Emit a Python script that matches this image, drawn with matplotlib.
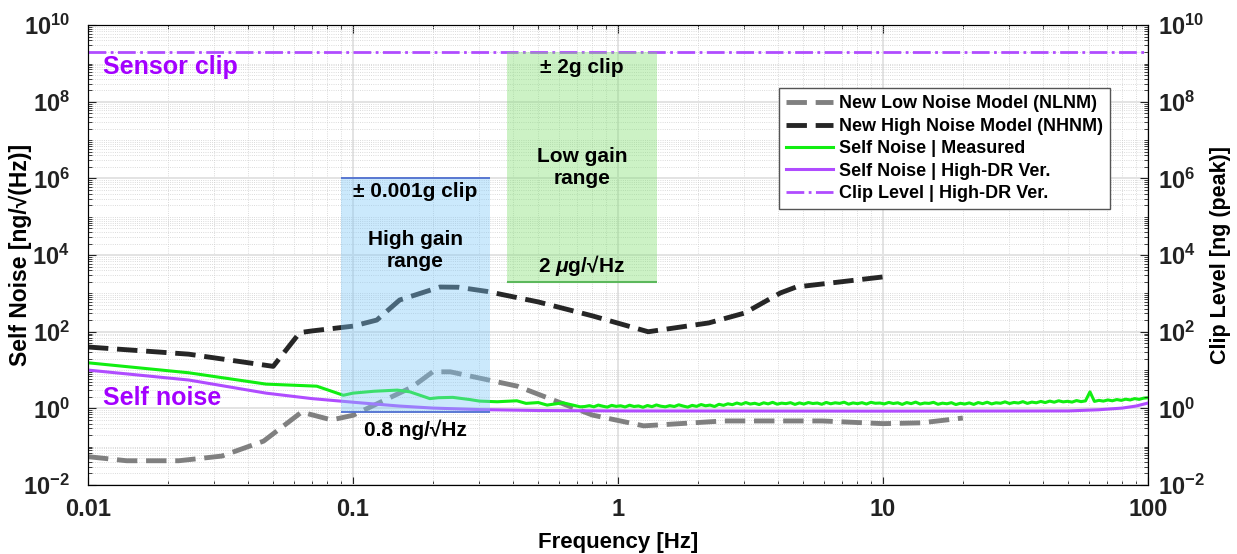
import numpy as np
import matplotlib
matplotlib.use("Agg")
import matplotlib.pyplot as plt
from matplotlib.ticker import LogLocator, NullFormatter

plt.rcParams["font.family"] = ["Liberation Sans", "DejaVu Sans"]
plt.rcParams["font.weight"] = "bold"
plt.rcParams["axes.labelweight"] = "bold"
plt.rcParams["mathtext.fontset"] = "custom"
plt.rcParams["mathtext.rm"] = "Liberation Sans:bold"
plt.rcParams["mathtext.it"] = "Liberation Sans:bold:italic"
plt.rcParams["mathtext.bf"] = "Liberation Sans:bold"

# --- data (ng/sqrt(Hz)) ---
nlnm_f = [0.01, 0.014, 0.022, 0.032, 0.046, 0.064, 0.083, 0.1, 0.167, 0.2, 0.233,
          0.417, 0.8, 1.25, 2.5, 5.9, 10, 14, 20]
nlnm_v = [0.055, 0.043, 0.043, 0.057, 0.14, 0.8, 0.5, 0.66, 3.6, 9.0, 9.0,
          3.8, 0.67, 0.35, 0.47, 0.47, 0.40, 0.42, 0.56]

nhnm_f = [0.01, 0.024, 0.05, 0.063, 0.07, 0.1, 0.123, 0.15, 0.213, 0.25, 0.32,
          0.5, 0.8, 1.3, 2.2, 3.0, 4.1, 4.7, 10]
nhnm_v = [40, 26, 12.5, 95, 105, 140, 202, 674, 1470, 1450, 1130,
          600, 260, 100, 170, 307, 1030, 1470, 2700]

# measured self noise, low-frequency part
meas_lf_f = [0.01, 0.024, 0.047, 0.073, 0.092, 0.1, 0.12, 0.147, 0.164, 0.195, 0.21,
             0.238, 0.276, 0.3, 0.35, 0.415, 0.45, 0.5, 0.54, 0.62, 0.72]
meas_lf_v = [15.5, 8.5, 4.3, 3.8, 2.2, 2.5, 2.8, 3.0, 2.7, 1.8, 1.9,
             1.94, 1.7, 1.55, 1.49, 1.58, 1.35, 1.42, 1.22, 1.4, 1.1]
# measured self noise, 0.75 - 100 Hz bins
meas_hf_range = (0.75, 100)
meas_hf_v = [1.12, 1.18, 1.10, 1.22, 1.14, 1.08, 1.20, 1.13,
             1.17, 1.09, 1.21, 1.12, 1.16, 1.07, 1.19, 1.11, 1.23, 1.14,
             1.10, 1.18, 1.12, 1.24, 1.15, 1.08, 1.20, 1.13, 1.26, 1.17, 1.22, 1.12, 1.28,
             1.20, 1.32, 1.25, 1.38, 1.28, 1.42, 1.30, 1.36, 1.26, 1.40, 1.31, 1.44, 1.29, 1.37, 1.33, 1.41, 1.27, 1.39,
             1.30, 1.42, 1.34, 1.38, 1.28, 1.43, 1.32, 1.40, 1.35, 1.45, 1.29, 1.39, 1.33, 1.41, 1.30, 1.44, 1.36, 1.38,
             1.31, 1.43, 1.34, 1.40, 1.27, 1.42, 1.33, 1.46, 1.30, 1.38, 1.35, 1.44, 1.28, 1.37, 1.32, 1.41, 1.26, 1.36,
             1.30, 1.39, 1.27, 1.42, 1.33, 1.45, 1.31, 1.40, 1.36, 1.48, 1.34, 1.43, 1.38, 1.50, 1.35, 1.46, 1.40, 1.52,
             1.42, 1.55, 1.45, 1.58, 1.48, 1.53, 1.46, 1.60, 1.50, 1.57, 2.70, 1.52, 1.62, 1.55, 1.66, 1.58, 1.70, 1.62,
             1.74, 1.66, 1.80, 1.72, 1.85, 1.90]

hidr_f = [0.01, 0.024, 0.047, 0.07, 0.106, 0.15, 0.2, 0.3, 0.5, 1, 10, 50, 65, 80, 90, 100]
hidr_v = [10, 5.5, 2.5, 1.8, 1.4, 1.15, 1.02, 0.93, 0.88, 0.86, 0.85, 0.86, 0.92, 1.02, 1.15, 1.38]

clip_level = 2e9          # +-2 g
high_gain = (0.09, 0.33, 0.8, 1e6)    # f_lo, f_hi, noise floor, clip
low_gain = (0.38, 1.4, 2e3, 2e9)

purple = "#b04cff"
txt_purple = "#a300ff"

fig = plt.figure(figsize=(12.37, 5.54), dpi=100)
ax = fig.add_axes([0.0711, 0.1245, 0.857, 0.830])

meas_hf_f = np.geomspace(meas_hf_range[0], meas_hf_range[1], len(meas_hf_v))
meas_f = np.concatenate([meas_lf_f, meas_hf_f])
meas_v = np.concatenate([meas_lf_v, meas_hf_v])

ax.plot(nlnm_f, nlnm_v, color="#808080", lw=3.5, ls=(0, (4.2, 1.8)),
        label="New Low Noise Model (NLNM)", zorder=3)
ax.plot(nhnm_f, nhnm_v, color="#262626", lw=3.5, ls=(0, (4.2, 1.8)),
        label="New High Noise Model (NHNM)", zorder=3)
ax.plot(meas_f, meas_v, color="#11ee11", lw=2.2, label="Self Noise | Measured", zorder=4)
ax.plot(hidr_f, hidr_v, color=purple, lw=2.2, label="Self Noise | High-DR Ver.", zorder=4)
ax.axhline(clip_level, color=purple, lw=2, ls="-.", label="Clip Level | High-DR Ver.", zorder=4)

# gain range boxes
ax.fill_between([high_gain[0], high_gain[1]], high_gain[2], high_gain[3],
                color="#7fc8f8", alpha=0.4, lw=0, zorder=5)
ax.hlines([high_gain[2], high_gain[3]], high_gain[0], high_gain[1], color="#4f6fd0", lw=1.3, zorder=5)
ax.fill_between([low_gain[0], low_gain[1]], low_gain[2], low_gain[3],
                color="#80e070", alpha=0.4, lw=0, zorder=5)
ax.hlines([low_gain[2]], low_gain[0], low_gain[1], color="#5cb85c", lw=1.5, zorder=5)

fs = 15
fs_p = 18
ax.text(0.0114, 8.1e8, "Sensor clip", color=txt_purple, fontsize=fs_p, ha="left", va="center")
ax.text(0.0114, 1.86, "Self noise", color=txt_purple, fontsize=fs_p, ha="left", va="center")
ax.text(0.73, 7.8e8, "± 2g clip", fontsize=fs, ha="center", va="center", zorder=6)
ax.text(0.73, 1.9e6, "Low gain\nrange", fontsize=fs, ha="center", va="center", zorder=6)
ax.text(0.73, 5.5e3, r"2 $\mu$g/√Hz", fontsize=fs, ha="center", va="center", zorder=6)
ax.text(0.172, 4.5e5, "± 0.001g clip", fontsize=fs, ha="center", va="center", zorder=6)
ax.text(0.172, 1.35e4, "High gain\nrange", fontsize=fs, ha="center", va="center", zorder=6)
ax.text(0.172, 0.27, "0.8 ng/√Hz", fontsize=fs, ha="center", va="center", zorder=6)

ax.set_xscale("log")
ax.set_yscale("log")
ax.set_xlim(0.01, 100)
ax.set_ylim(1e-2, 1e10)
ax.set_xticks([0.01, 0.1, 1, 10, 100])
ax.set_xticklabels(["0.01", "0.1", "1", "10", "100"])
ax.yaxis.set_major_locator(LogLocator(base=100, numticks=20))
ax.yaxis.set_minor_locator(LogLocator(base=10, subs=np.arange(1, 10), numticks=40))
ax.yaxis.set_minor_formatter(NullFormatter())

ax.grid(True, which="major", color="#e3e3e3", lw=1.4, ls="-", zorder=0)
ax.grid(True, which="minor", color="#cfcfcf", lw=0.6, ls=":", zorder=0)
ax.set_axisbelow(True)
ax.tick_params(which="both", direction="in", top=True, labelsize=17, colors="#222222")
ax.tick_params(which="major", length=6)
ax.tick_params(which="minor", length=3)
ax.tick_params(axis="x", which="major", pad=9)
ax.tick_params(axis="y", which="major", pad=13)
for s in ax.spines.values():
    s.set_color("#333333")

ax.set_xlabel("Frequency [Hz]", fontsize=16)
ax.xaxis.set_label_coords(0.5, -0.103)
ax.set_ylabel("Self Noise [ng/√(Hz)]", fontsize=16.5)
ax.yaxis.set_label_coords(-0.053, 0.5)

ax2 = ax.twinx()
ax2.set_yscale("log")
ax2.set_ylim(1e-2, 1e10)
ax2.yaxis.set_major_locator(LogLocator(base=100, numticks=20))
ax2.yaxis.set_minor_locator(LogLocator(base=10, subs=np.arange(1, 10), numticks=40))
ax2.yaxis.set_minor_formatter(NullFormatter())
ax2.tick_params(which="both", direction="in", labelsize=17, colors="#222222")
ax2.tick_params(which="major", length=6, pad=7)
ax2.tick_params(which="minor", length=3)
ax2.set_ylabel("Clip Level [ng (peak)]", fontsize=15.5)
ax2.yaxis.set_label_coords(1.0585, 0.5)

leg = ax.legend(loc="upper right", bbox_to_anchor=(0.964, 0.863), borderaxespad=0,
                fontsize=13, frameon=True, fancybox=False, framealpha=1, edgecolor="#555555",
                handlelength=2.6, handletextpad=0.3, borderpad=0.4, labelspacing=0.3)
leg.get_frame().set_linewidth(1.0)
leg.set_zorder(10)

fig.savefig("out.png", dpi=100)
